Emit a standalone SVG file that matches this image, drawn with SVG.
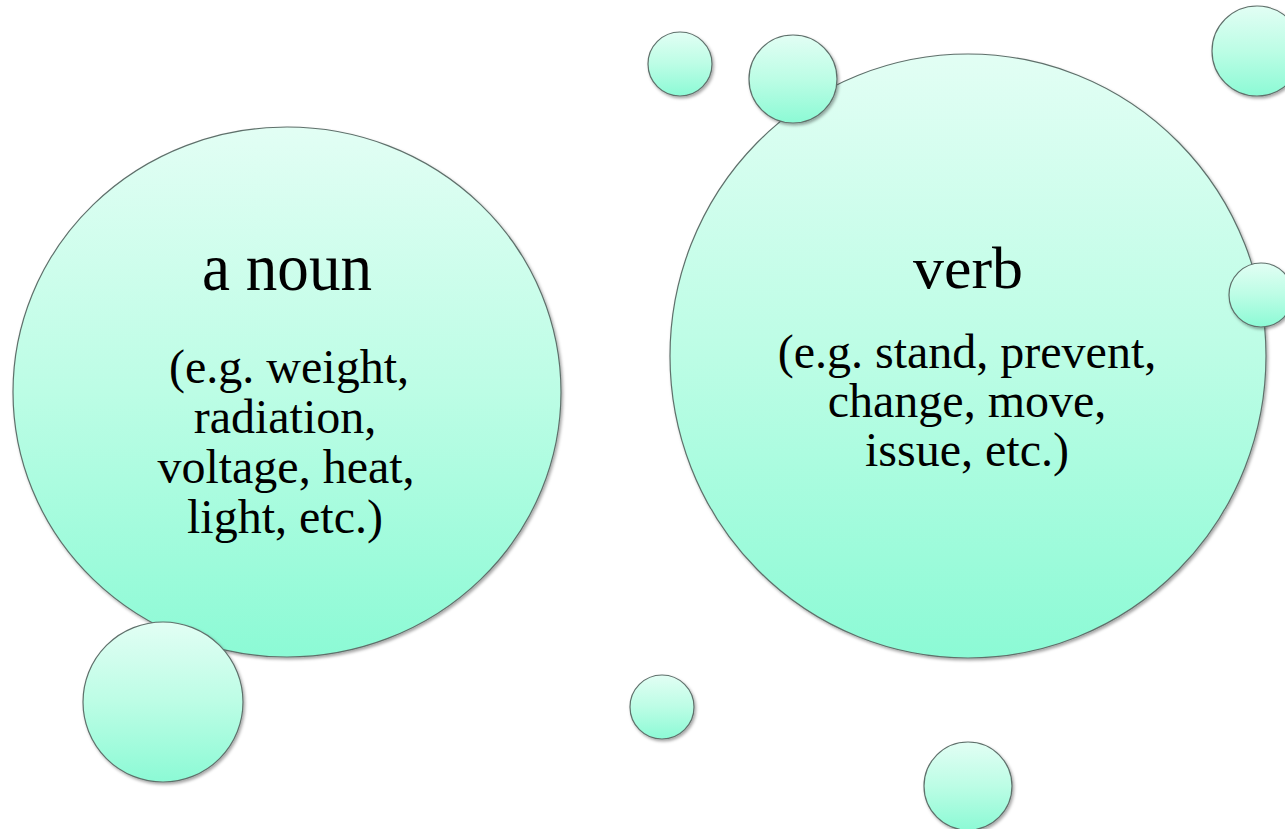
<svg xmlns="http://www.w3.org/2000/svg" width="1285" height="829" viewBox="0 0 1285 829">
  <defs>
    <linearGradient id="aqua" x1="0" y1="0" x2="0" y2="1">
      <stop offset="0" stop-color="#e2fef4"/>
      <stop offset="0.5" stop-color="#bcfde5"/>
      <stop offset="1" stop-color="#8cfad5"/>
    </linearGradient>
    <filter id="shadow" x="-10%" y="-10%" width="125%" height="125%">
      <feDropShadow dx="1.5" dy="2" stdDeviation="1.5" flood-color="#000000" flood-opacity="0.35"/>
    </filter>
  </defs>
  <style>
    .bubble { fill: url(#aqua); stroke: #5f706b; stroke-width: 1.2; filter: url(#shadow); }
    .title { font-family: "Liberation Serif", "Times New Roman", serif; fill: #000; text-anchor: middle; }
    .body { font-family: "Liberation Serif", "Times New Roman", serif; font-size: 48px; fill: #000; text-anchor: middle; }
  </style>
  <rect width="1285" height="829" fill="#ffffff"/>

  <g id="noun">
    <ellipse class="bubble" cx="287" cy="392" rx="274" ry="265"/>
    <text class="title" x="287" y="290" font-size="68" textLength="170" lengthAdjust="spacingAndGlyphs">a noun</text>
    <text class="body" x="289" y="383">(e.g. weight,</text>
    <text class="body" x="285" y="433">radiation,</text>
    <text class="body" x="286" y="483">voltage, heat,</text>
    <text class="body" x="285" y="533">light, etc.)</text>
  </g>

  <g id="verb">
    <ellipse class="bubble" cx="968" cy="356" rx="298" ry="302"/>
    <text class="title" x="968" y="288" font-size="60" textLength="110" lengthAdjust="spacingAndGlyphs">verb</text>
    <text class="body" x="967" y="368">(e.g. stand, prevent,</text>
    <text class="body" x="967" y="417">change, move,</text>
    <text class="body" x="967" y="466">issue, etc.)</text>
  </g>

  <g id="bubble-bl"><circle class="bubble" cx="163" cy="702" r="80"/></g>
  <g id="bubble-a"><circle class="bubble" cx="680" cy="64" r="32"/></g>
  <g id="bubble-b"><circle class="bubble" cx="793" cy="79" r="44"/></g>
  <g id="bubble-c"><circle class="bubble" cx="1257" cy="51" r="45"/></g>
  <g id="bubble-d"><circle class="bubble" cx="1261" cy="295" r="32"/></g>
  <g id="bubble-e"><circle class="bubble" cx="662" cy="707" r="32"/></g>
  <g id="bubble-f"><circle class="bubble" cx="968" cy="786" r="44"/></g>

  <g id="connectors"/>
</svg>
